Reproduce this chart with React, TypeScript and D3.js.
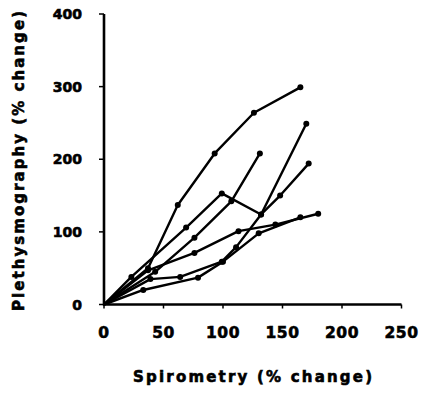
import React from "react";
import * as d3 from "d3";

// Paired % changes per subject: [spirometry, plethysmography]
const subjectA: [number, number][] = [[0, 0], [37, 50], [62, 137], [93, 208], [126, 264], [165, 299]];
const subjectB: [number, number][] = [[0, 0], [23, 38], [69, 106], [99, 153], [132, 124], [170, 249]];
const subjectC: [number, number][] = [[0, 0], [43, 45], [76, 92], [107, 142], [131, 208]];
const subjectD: [number, number][] = [[0, 0], [39, 35], [64, 38], [99, 59], [111, 79], [132, 124], [148, 150], [172, 194]];
const subjectE: [number, number][] = [[0, 0], [33, 20], [79, 37], [100, 59], [130, 98], [165, 120]];
const subjectF: [number, number][] = [[0, 0], [37, 47], [76, 71], [113, 101], [144, 110], [180, 125]];

const subjects = [subjectA, subjectB, subjectC, subjectD, subjectE, subjectF];

const xTicks = [0, 50, 100, 150, 200, 250];
const yTicks = [0, 100, 200, 300, 400];

const xTitle = "Spirometry (% change)";
const yTitle = "Plethysmography (% change)";

const W = 423;
const H = 394;

export default function App() {
  const x = d3.scaleLinear().domain([0, 250]).range([104, 401.5]);
  const y = d3.scaleLinear().domain([0, 400]).range([304.5, 14]);
  const line = d3
    .line<[number, number]>()
    .x((d) => x(d[0]))
    .y((d) => y(d[1]));

  const font = "'DejaVu Sans', 'Liberation Sans', sans-serif";
  // heavy lettering
  const heavy = { fontFamily: font, fontWeight: "bold", fill: "#000", stroke: "#000", strokeWidth: 0.6 } as const;

  return (
    <svg
      width={W}
      height={H}
      style={{ position: "absolute", left: 0, top: 0, background: "#fff" }}
    >
      <rect width={W} height={H} fill="#fff" />
      {/* axes */}
      <line x1={x(0)} x2={x(0)} y1={y(400)} y2={y(0) + 1} stroke="#000" strokeWidth={2.6} />
      <line x1={x(0) - 1} x2={x(250)} y1={y(0)} y2={y(0)} stroke="#000" strokeWidth={2.6} />
      {yTicks.map((t) => (
        <g key={"y" + t}>
          <line x1={x(0) - 5} x2={x(0)} y1={y(t)} y2={y(t)} stroke="#000" strokeWidth={1.5} />
          <text x={82} y={y(t)} dy="0.36em" textAnchor="end" fontSize={14} {...heavy}>
            {t}
          </text>
        </g>
      ))}
      {xTicks.map((t) => (
        <g key={"x" + t}>
          <line x1={x(t)} x2={x(t)} y1={y(0)} y2={y(0) + 4} stroke="#000" strokeWidth={1.5} />
          <text x={x(t)} y={338} textAnchor="middle" fontSize={15.5} letterSpacing={0.5} {...heavy}>
            {t}
          </text>
        </g>
      ))}
      {/* subject traces */}
      {subjects.map((s, i) => (
        <g key={"s" + i}>
          <path d={line(s) ?? ""} fill="none" stroke="#000" strokeWidth={2.4} strokeLinejoin="round" />
          {s.slice(1).map((d, j) => (
            <circle key={j} cx={x(d[0])} cy={y(d[1])} r={3} fill="#000" />
          ))}
        </g>
      ))}
      {/* axis titles */}
      <text
        x={252.5}
        y={382}
        textAnchor="middle"
        fontSize={15}
        textLength={239}
        lengthAdjust="spacing"
        {...heavy}
      >
        {xTitle}
      </text>
      <text
        transform={`translate(24,161) rotate(-90)`}
        textAnchor="middle"
        fontSize={15}
        textLength={300}
        lengthAdjust="spacing"
        {...heavy}
      >
        {yTitle}
      </text>
    </svg>
  );
}
